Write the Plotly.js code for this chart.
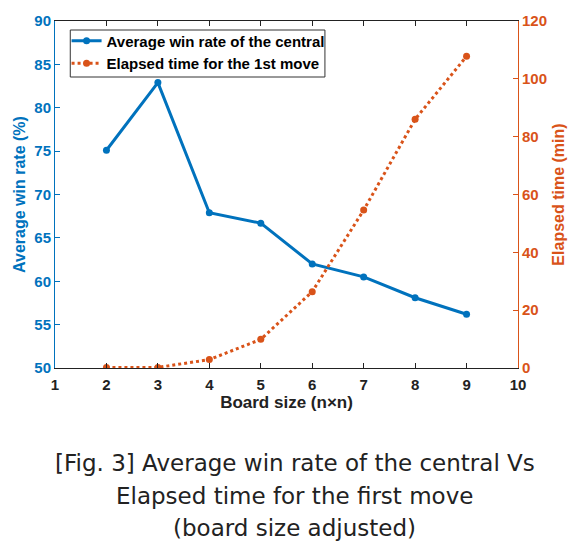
<!DOCTYPE html>
<html><head><meta charset="utf-8">
<script src="https://cdn.plot.ly/plotly-3.0.1.min.js"></script>
<style>body{margin:0;background:#fff}#c{width:586px;height:545px}</style>
</head><body><div id="c"></div>
<script>
const boardSize = [2, 3, 4, 5, 6, 7, 8, 9];
const winRate = [75.1, 82.9, 67.9, 66.7, 62.0, 60.5, 58.1, 56.2];
const elapsedTime = [0.2, 0.2, 2.9, 9.9, 26.4, 54.6, 86.0, 107.8];
const xTicks = [1, 2, 3, 4, 5, 6, 7, 8, 9, 10];
const captionLines = [
  "[Fig. 3] Average win rate of the central Vs",
  "Elapsed time for the first move",
  "(board size adjusted)"
];
const blue = "#0072BD", orange = "#D95319";
const tf = {family: "Liberation Sans, Arial, sans-serif", size: 15, weight: "bold"};

const traces = [
  {x: boardSize, y: winRate, name: "Average win rate of the central", type: "scatter",
   mode: "lines+markers", line: {color: blue, width: 3}, marker: {color: blue, size: 7}},
  {x: boardSize, y: elapsedTime, name: "Elapsed time for the 1st move", type: "scatter",
   mode: "lines+markers", yaxis: "y2", line: {color: orange, width: 3, dash: "dot"},
   marker: {color: orange, size: 7}}
];
const caps = captionLines.map((t, i) => ({
  text: t, xref: "paper", yref: "paper", x: 0.518, xanchor: "center",
  y: (368 - [463, 496, 528][i]) / 347, yanchor: "middle", showarrow: false,
  font: {family: "DejaVu Sans, sans-serif", size: 23, color: "#222"}
}));
const layout = {
  width: 586, height: 545, paper_bgcolor: "#fff", plot_bgcolor: "#fff",
  margin: {l: 55, r: 68, t: 21, b: 177},
  showlegend: true,
  legend: {x: 0.025, y: 0.99, xanchor: "left", yanchor: "top", bgcolor: "rgba(0,0,0,0)",
    borderwidth: 0, font: {family: "Liberation Sans, Arial", size: 15, weight: "bold", color: "#000"},
    tracegroupgap: 0, itemwidth: 30},
  shapes: [{type: "rect", xref: "paper", yref: "paper", x0: 0.033, x1: 0.583,
    y0: (368 - 77) / 347, y1: (368 - 30) / 347, fillcolor: "#fff",
    line: {color: "#333", width: 1}, layer: "above"}],
  xaxis: {range: [1, 10], tickvals: xTicks, showgrid: false, zeroline: false, showline: true,
    linecolor: "#222", linewidth: 1, mirror: "ticks", ticks: "inside", ticklen: 5, tickcolor: "#222",
    ticklabelstandoff: 3,
    tickfont: Object.assign({color: "#222"}, tf),
    title: {text: "Board size (n×n)", font: {family: "Liberation Sans, Arial", size: 17, weight: "bold", color: "#222"}, standoff: 4}},
  yaxis: {range: [50, 90], dtick: 5, showgrid: false, zeroline: false, showline: true,
    linecolor: blue, ticks: "inside", ticklen: 5, tickcolor: blue,
    tickfont: Object.assign({color: blue}, tf),
    title: {text: "Average win rate (%)", font: {family: "Liberation Sans, Arial", size: 16, weight: "bold", color: blue}, standoff: 4}},
  yaxis2: {range: [0, 120], dtick: 20, overlaying: "y", side: "right", showgrid: false, zeroline: false,
    showline: true, linecolor: orange, ticks: "inside", ticklen: 5, tickcolor: orange,
    tickfont: Object.assign({color: orange}, tf),
    title: {text: "Elapsed time (min)", font: {family: "Liberation Sans, Arial", size: 16, weight: "bold", color: orange}, standoff: 6}},
  annotations: caps
};
Plotly.newPlot("c", traces, layout, {displayModeBar: false, staticPlot: true});
</script></body></html>
